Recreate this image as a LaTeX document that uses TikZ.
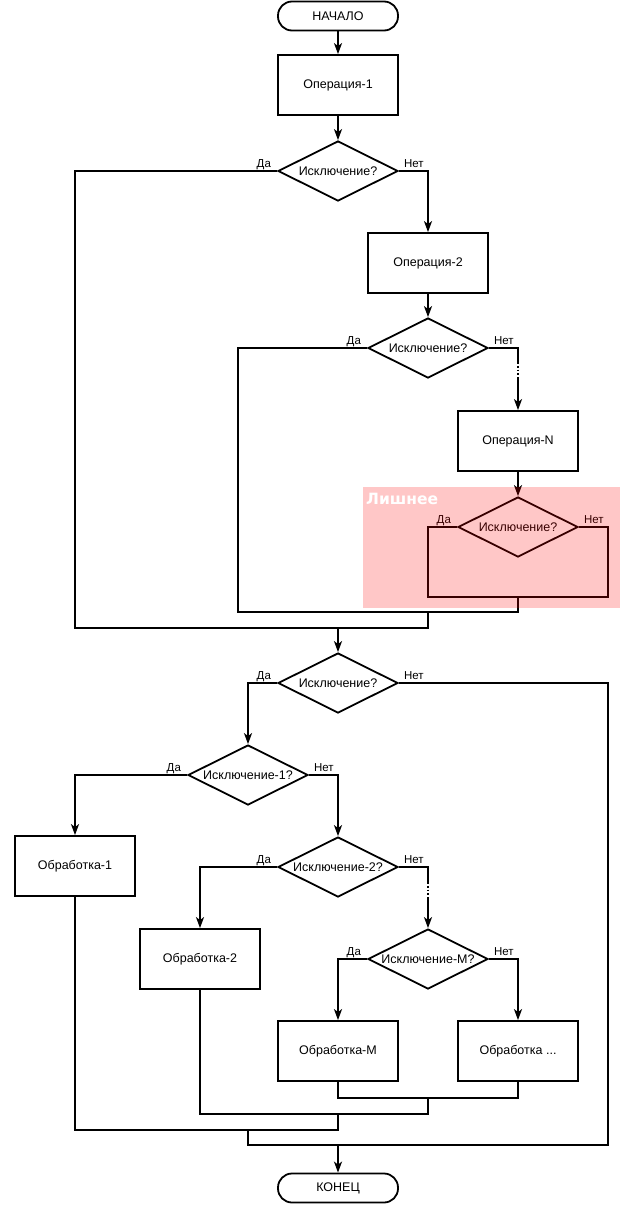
\documentclass[tikz,border=0pt]{standalone}
\usepackage{fontspec}
\setmainfont{Liberation Sans}
\newfontfamily\extrafont{DejaVu Sans}
\usetikzlibrary{arrows.meta,shapes.geometric}
\tikzset{
  line/.style={line width=1.8pt, line join=miter},
  arrow/.style={line, -{Stealth[length=11pt,width=8pt,inset=3pt]}},
  block/.style={line, draw, rectangle, minimum width=120pt, minimum height=60pt, inner sep=0pt, font=\fontsize{12.5}{15}\selectfont},
  decision/.style={line, draw, diamond, shape aspect=2, minimum width=120pt, minimum height=60pt, inner xsep=-20pt, inner ysep=0pt, font=\fontsize{12.5}{15}\selectfont},
  terminal/.style={line, draw, rectangle, rounded corners=14pt, minimum width=120pt, minimum height=29pt, inner sep=0pt, font=\fontsize{12.5}{15}\selectfont},
  lbl/.style={inner sep=0pt, font=\fontsize{11.5}{13}\selectfont},
}

\begin{document}
\begin{tikzpicture}[x=1pt, y=-1pt]
			%%%%% START %%%%%
			\useasboundingbox (0, 0) rectangle (627, 1205);
			
			\node[terminal] (start) at (338, 16) {НАЧАЛО};
			\node[block] (op1) at (338, 85) {Операция-1};
			\node[decision] (q1) at (338, 171) {Исключение?};
			\node[block] (op2) at (428, 263) {Операция-2};
			\node[decision] (q2) at (428, 348) {Исключение?};
			\node[block] (opN) at (518, 441) {Операция-N};
			\node[decision] (q3) at (518, 527) {Исключение?};
			\node[decision] (q4) at (338, 683) {Исключение?};
			\node[decision] (e1) at (248, 775) {Исключение-1?};
			\node[block] (h1) at (75, 866) {Обработка-1};
			\node[decision] (e2) at (338, 867) {Исключение-2?};
			\node[block] (h2) at (200, 959) {Обработка-2};
			\node[decision] (eM) at (428, 959) {Исключение-M?};
			\node[block] (hM) at (338, 1051) {Обработка-M};
			\node[block] (hX) at (518, 1051) {Обработка ...};
			\node[terminal] (stop) at (338, 1188) {КОНЕЦ};
			
			\coordinate (g1a) at (518, 362);
			\coordinate (g1b) at (518, 379);
			\coordinate (g2a) at (428, 882);
			\coordinate (g2b) at (428, 899);
			\coordinate (x3) at (518, 597);
			\coordinate (x2) at (428, 612);
			\coordinate (x1) at (338, 628);
			\coordinate (y1) at (428, 1098);
			\coordinate (y2) at (338, 1114);
			\coordinate (y3) at (248, 1130);
			\coordinate (y4) at (338, 1145);
			
			\draw[arrow] (start) -- (op1);
			\draw[arrow] (op1) -- (q1);
			\draw[arrow] (q1.east) -| (op2.north);
			\draw[arrow] (op2) -- (q2);
			\draw[line] (q2.east) -| (g1a);
			\draw[line, dotted] (g1a) -- (g1b);
			\draw[arrow] (g1b) -- (opN.north);
			\draw[arrow] (opN) -- (q3);
			
			\draw[line] (q3.west) -| ([xshift=-90pt]x3) -- ([xshift=90pt]x3) |- (q3.east);
			\draw[line] (x3) -- (x3 |- x2) -- ([xshift=-190pt]x2) |- (q2.west);
			\draw[line] (x2) -- (x2 |- x1) -- ([xshift=-263pt]x1) |- (q1.west);
			\draw[arrow] (x1) -- (q4.north);
			
			\draw[arrow] (q4.west) -| (e1.north);
			\draw[arrow] (e1.west) -| (h1.north);
			\draw[arrow] (e1.east) -| (e2.north);
			\draw[arrow] (e2.west) -| (h2.north);
			\draw[line] (e2.east) -| (g2a);
			\draw[line, dotted] (g2a) -- (g2b);
			\draw[arrow] (g2b) -- (eM.north);
			\draw[arrow] (eM.west) -| (hM.north);
			\draw[arrow] (eM.east) -| (hX.north);
			
			\draw[line] (hM.south) |- (y1) -| (hX.south);
			\draw[line] (y1) -- (y1 |- y2) -| (h2.south);
			\draw[line] (y2) -- (y2 |- y3) -| (h1.south);
			\draw[line] (y3) -- (y3 |- y4) -| ([xshift=270pt]y4) |- (q4.east);
			\draw[arrow] (y4) -- (stop.north);
			
			\foreach \d in {q1, q2, q3, q4, e1, e2, eM} {
				\node[lbl, anchor=base east] (\d-yes) at ([shift={(-6, -4)}]\d.west) {Да};
				\node[lbl, anchor=base west] (\d-no) at ([shift={(5, -4)}]\d.east) {Нет};
			}
			
			\fill[red, fill opacity=0.22] (363, 487) rectangle (620, 608);
			\node[anchor=west, inner sep=0pt, text=white, font=\extrafont\fontsize{15.5}{18}\selectfont\bfseries] (extra) at (366, 499) {Лишнее};
			
			%%%%% END %%%%%
\end{tikzpicture}
\end{document}
